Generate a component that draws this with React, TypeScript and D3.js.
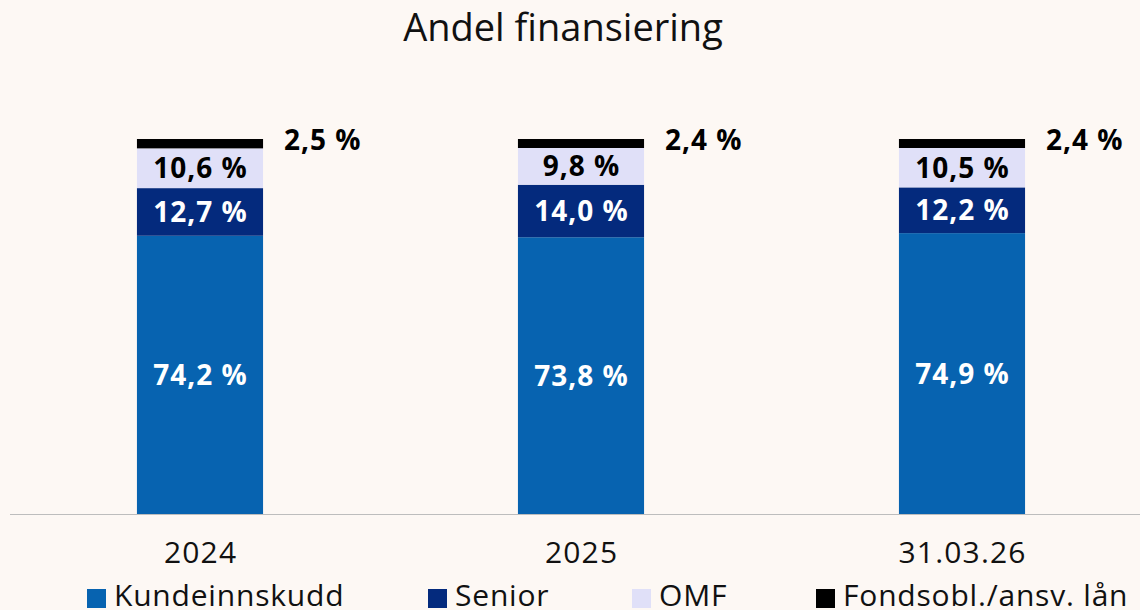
import React, { useRef, useEffect } from "react";
import * as d3 from "d3";

const categories = ["2024", "2025", "31.03.26"];
const seriesNames = ["Kundeinnskudd", "Senior", "OMF", "Fondsobl./ansv. lån"];
const kundeinnskudd = [74.2, 73.8, 74.9];
const senior = [12.7, 14.0, 12.2];
const omf = [10.6, 9.8, 10.5];
const fondsobl = [2.5, 2.4, 2.4];

const colors = ["#0763b0", "#042a7d", "#e0e0f8", "#000000"];
const labelColors = ["#ffffff", "#ffffff", "#000000", "#000000"];

const fmt = (v: number) => v.toFixed(1).replace(".", ",") + " %";

const App = () => {
  const wrapper = useRef<SVGSVGElement | null>(null);
  const width = 1140;
  const height = 610;

  useEffect(() => {
    const svg = d3.select(wrapper.current);
    svg.selectAll("*").remove();

    const font = "'Open Sans', Lato, sans-serif";
    svg.append("rect").attr("width", width).attr("height", height).attr("fill", "#fdf8f4");

    const rows = categories.map((c, i) => ({
      cat: c,
      [seriesNames[0]]: kundeinnskudd[i],
      [seriesNames[1]]: senior[i],
      [seriesNames[2]]: omf[i],
      [seriesNames[3]]: fondsobl[i],
    }));

    const x = d3.scaleBand().domain(categories).range([9.5, 1152.5]).paddingInner(0.669).paddingOuter(0.3345);
    const y = d3.scaleLinear().domain([0, 100]).range([514, 139]);

    const stack = d3.stack<any>().keys(seriesNames);
    const layers = stack(rows);

    const g = svg.append("g");
    layers.forEach((layer, li) => {
      g.selectAll(null)
        .data(layer)
        .enter()
        .append("rect")
        .attr("x", (d: any) => x(d.data.cat)!)
        .attr("width", x.bandwidth())
        .attr("y", (d) => y(d[1]))
        .attr("height", (d) => y(d[0]) - y(d[1]))
        .attr("fill", colors[li]);

      const inside = li < 3;
      g.selectAll(null)
        .data(layer)
        .enter()
        .append("text")
        .attr("x", (d: any) => inside ? x(d.data.cat)! + x.bandwidth() / 2 + 0.5 : x(d.data.cat)! + x.bandwidth() + 21)
        .attr("y", (d) => inside ? (y(d[0]) + y(d[1])) / 2 : y(d[1]) + 1)
        .attr("dy", "0.36em")
        .attr("text-anchor", inside ? "middle" : "start")
        .attr("fill", labelColors[li])
        .style("font-family", font)
        .style("font-weight", 700)
        .style("font-size", "28px")
        .style("letter-spacing", "1px")
        .text((d: any) => fmt(d.data[seriesNames[li]]));
    });

    // baseline
    svg.append("line").attr("x1", 10).attr("x2", 1140).attr("y1", 514.5).attr("y2", 514.5)
      .attr("stroke", "#bdbdbd").attr("stroke-width", 1);

    // category labels
    svg.selectAll(null)
      .data(categories)
      .enter()
      .append("text")
      .attr("x", (d) => x(d)! + x.bandwidth() / 2 + 0.6)
      .attr("y", 563)
      .attr("text-anchor", "middle")
      .style("font-family", font)
      .style("font-size", "30px")
      .style("letter-spacing", "1.2px")
      .attr("fill", "#111")
      .text((d) => d);

    // title
    svg.append("text")
      .attr("x", 563)
      .attr("y", 41)
      .attr("text-anchor", "middle")
      .style("font-family", font)
      .style("font-size", "38px")
      .attr("fill", "#111")
      .text("Andel finansiering");

    // legend
    const legendX = [87, 428, 632, 816];
    const lg = svg.selectAll(null)
      .data(seriesNames)
      .enter()
      .append("g")
      .attr("transform", (d, i) => `translate(${legendX[i]},589)`);
    lg.append("rect").attr("width", 19).attr("height", 19).attr("fill", (d, i) => colors[i]);
    lg.append("text")
      .attr("x", 27)
      .attr("y", 17)
      .style("font-family", font)
      .style("font-size", "30px")
      .style("letter-spacing", "0.8px")
      .attr("fill", "#111")
      .text((d) => d);
  }, []);

  return (
    <svg
      ref={wrapper}
      width={width}
      height={height}
      style={{ position: "fixed", left: 0, top: 0, display: "block" }}
    />
  );
};

export default App;
